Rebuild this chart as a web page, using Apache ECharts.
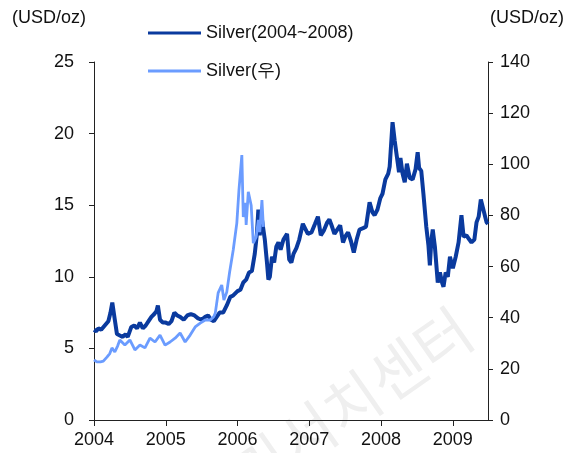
<!DOCTYPE html>
<html>
<head>
<meta charset="utf-8">
<script src="https://cdn.jsdelivr.net/npm/echarts/dist/echarts.min.js"></script>
<style>
  html, body { margin: 0; padding: 0; background: #fff; }
  #chart { width: 576px; height: 453px; }
</style>
</head>
<body>
<div id="chart"></div>
<script>
// silver 2004~2008 (left axis), x as decimal year
var silverYears = [
  2004.00, 2004.03, 2004.06, 2004.10, 2004.15, 2004.20, 2004.23, 2004.255, 2004.29, 2004.32,
  2004.36, 2004.40, 2004.44, 2004.47, 2004.52, 2004.56, 2004.60, 2004.64, 2004.68, 2004.72,
  2004.76, 2004.80, 2004.84, 2004.87, 2004.89, 2004.92, 2004.96, 2005.00, 2005.04, 2005.08,
  2005.12, 2005.16, 2005.20, 2005.25, 2005.30, 2005.35, 2005.40, 2005.45, 2005.50, 2005.55,
  2005.59, 2005.63, 2005.67, 2005.71, 2005.75, 2005.80, 2005.85, 2005.90, 2005.94, 2006.00,
  2006.04, 2006.08, 2006.12, 2006.16, 2006.20, 2006.24, 2006.27, 2006.29, 2006.31, 2006.33,
  2006.36, 2006.38, 2006.41, 2006.43, 2006.45, 2006.48, 2006.51, 2006.54, 2006.57, 2006.60,
  2006.64, 2006.69, 2006.72, 2006.75, 2006.78, 2006.82, 2006.86, 2006.91, 2006.95, 2006.98,
  2007.03, 2007.08, 2007.12, 2007.16, 2007.20, 2007.25, 2007.28, 2007.31, 2007.35, 2007.39,
  2007.43, 2007.47, 2007.50, 2007.54, 2007.58, 2007.62, 2007.66, 2007.70, 2007.75, 2007.79,
  2007.84, 2007.88, 2007.91, 2007.95, 2007.99, 2008.02, 2008.06, 2008.10, 2008.12, 2008.16,
  2008.19, 2008.22, 2008.25, 2008.27, 2008.30, 2008.33, 2008.36, 2008.40, 2008.44, 2008.48,
  2008.51, 2008.53, 2008.56, 2008.59, 2008.63, 2008.66, 2008.68, 2008.70, 2008.72, 2008.75,
  2008.79, 2008.82, 2008.85, 2008.87, 2008.90, 2008.93, 2008.96, 2009.00, 2009.04, 2009.08,
  2009.12, 2009.15, 2009.19, 2009.23, 2009.26, 2009.30, 2009.33, 2009.36, 2009.39, 2009.42,
  2009.47, 2009.49
];
var silverPrice = [
  6.3, 6.2, 6.4, 6.3, 6.6, 6.9, 7.5, 8.2, 7.0, 6.0,
  5.9, 5.8, 6.0, 5.8, 6.5, 6.6, 6.4, 6.8, 6.4, 6.6,
  6.9, 7.2, 7.4, 7.6, 8.0, 7.0, 6.8, 6.8, 6.7, 6.9,
  7.5, 7.3, 7.2, 7.0, 7.3, 7.4, 7.3, 7.1, 7.0, 7.2,
  7.3, 7.0, 6.9, 7.2, 7.5, 7.5, 8.0, 8.6, 8.7, 9.0,
  9.1, 9.6, 9.8, 10.3, 10.4, 11.6, 13.0, 14.7, 12.9, 14.4,
  13.3, 12.6, 11.0, 9.8, 10.0, 11.4, 11.0, 12.1, 12.4, 11.9,
  12.6, 13.0, 11.2, 11.0, 11.6, 12.0, 12.6, 13.7, 13.3, 13.0,
  13.1, 13.7, 14.2, 12.9, 13.2, 13.8, 14.0, 13.6, 13.0, 13.3,
  13.6, 12.4, 12.8, 13.1, 12.5, 11.7, 12.6, 13.3, 13.4, 13.5,
  15.2, 14.5, 14.3, 14.7, 15.5, 15.8, 16.8, 17.2, 17.7, 20.8,
  19.5, 18.4, 17.3, 18.3, 17.2, 16.6, 17.9, 16.9, 16.8, 17.5,
  18.7, 17.6, 17.4, 15.8, 13.5, 12.2, 10.8, 12.5, 13.3, 12.1,
  9.6, 10.3, 9.6, 9.3, 10.3, 10.0, 11.4, 10.6, 11.4, 12.4,
  14.3, 12.8, 12.9, 12.6, 12.4, 12.6, 13.8, 14.2, 15.4, 14.8,
  13.8, 13.7
];

// silver (right axis)
var silverRYears = [
  2004.00, 2004.04, 2004.09, 2004.13, 2004.18, 2004.22, 2004.25, 2004.29, 2004.33, 2004.36,
  2004.43, 2004.50, 2004.57, 2004.64, 2004.71, 2004.78, 2004.85, 2004.92, 2004.99, 2005.06,
  2005.13, 2005.20, 2005.27, 2005.34, 2005.41, 2005.48, 2005.55, 2005.62, 2005.67, 2005.69,
  2005.73, 2005.78, 2005.81, 2005.85, 2005.89, 2005.94, 2005.99, 2006.02, 2006.06, 2006.08,
  2006.11, 2006.12, 2006.15, 2006.19, 2006.22, 2006.26, 2006.29, 2006.31, 2006.34, 2006.36
];
var silverRPrice = [
  23.5, 22.7, 22.7, 23.0, 24.6, 26.0, 28.2, 26.6, 29.0, 31.3,
  29.3, 31.3, 27.4, 29.3, 28.2, 32.0, 30.5, 33.2, 29.3, 30.5,
  32.0, 34.0, 30.5, 33.2, 36.4, 37.9, 39.1, 39.1, 40.5, 41.8,
  49.7, 52.8, 46.9, 50.0, 57.9, 66.5, 77.0, 90.0, 103.6, 79.4,
  84.9, 76.3, 89.2, 84.0, 69.2, 71.6, 78.2, 73.5, 86.0, 75.5
];

var yearTicks = [2004, 2005, 2006, 2007, 2008, 2009];
var leftTicks = [0, 5, 10, 15, 20, 25];
var rightTicks = [0, 20, 40, 60, 80, 100, 120, 140];

function pairs(xs, ys) {
  return xs.map(function (x, i) { return [x, ys[i]]; });
}

var FONT = "'Liberation Sans', Arial, sans-serif";
var FSIZE = 18;
var axisColor = '#222';

var chart = echarts.init(document.getElementById('chart'));

var option = {
  animation: false,
  grid: { left: 94, right: 88, top: 62, bottom: 33 },
  legend: {
    orient: 'vertical',
    left: 148,
    top: 24,
    padding: 0,
    icon: 'rect',
    itemWidth: 53,
    itemHeight: 3,
    itemGap: 20,
    textStyle: { fontFamily: FONT, fontSize: FSIZE, color: '#111' },
    data: ['Silver(2004~2008)', 'Silver(우)']
  },
  xAxis: {
    type: 'value',
    min: yearTicks[0],
    max: 2009.49,
    interval: 1,
    splitLine: { show: false },
    axisLine: { lineStyle: { color: axisColor, width: 1 } },
    axisTick: { length: 6, lineStyle: { color: axisColor } },
    axisLabel: {
      margin: 11,
      fontFamily: FONT,
      fontSize: FSIZE,
      color: '#111',
      showMaxLabel: false,
      formatter: function (v) { return yearTicks.indexOf(v) >= 0 ? String(v) : ''; }
    }
  },
  yAxis: [
    {
      type: 'value',
      min: leftTicks[0],
      max: leftTicks[leftTicks.length - 1],
      interval: 5,
      name: '(USD/oz)',
      nameLocation: 'end',
      nameGap: 44,
      nameTextStyle: { fontFamily: FONT, fontSize: FSIZE, color: '#111', align: 'right', verticalAlign: 'middle', padding: [0, 8, 0, 0] },
      splitLine: { show: false },
      axisLine: { show: true, lineStyle: { color: axisColor, width: 1 } },
      axisTick: { show: true, length: 5, lineStyle: { color: axisColor } },
      axisLabel: { margin: 20, fontFamily: FONT, fontSize: FSIZE, color: '#111' }
    },
    {
      type: 'value',
      min: rightTicks[0],
      max: rightTicks[rightTicks.length - 1],
      interval: 20,
      position: 'right',
      name: '(USD/oz)',
      nameLocation: 'end',
      nameGap: 44,
      nameTextStyle: { fontFamily: FONT, fontSize: FSIZE, color: '#111', align: 'left', verticalAlign: 'middle', padding: [0, 0, 0, 2] },
      splitLine: { show: false },
      axisLine: { show: true, lineStyle: { color: axisColor, width: 1 } },
      axisTick: { show: true, length: 5, lineStyle: { color: axisColor } },
      axisLabel: { margin: 12, fontFamily: FONT, fontSize: FSIZE, color: '#111' }
    }
  ],
  graphic: [
    {
      // watermark
      type: 'text',
      x: 352,
      y: 402,
      rotation: 0.61,
      z: -10,
      silent: true,
      style: {
        text: '리서치센터',
        font: '60px "Noto Sans CJK KR"',
        fill: '#efefef',
        align: 'center',
        verticalAlign: 'middle'
      }
    }
  ],
  series: [
    {
      name: 'Silver(2004~2008)',
      type: 'line',
      yAxisIndex: 0,
      symbol: 'none',
      lineStyle: { color: '#0a3a9e', width: 4 },
      itemStyle: { color: '#0a3a9e' },
      data: pairs(silverYears, silverPrice)
    },
    {
      name: 'Silver(우)',
      type: 'line',
      yAxisIndex: 1,
      symbol: 'none',
      lineStyle: { color: '#6b9cff', width: 2.8 },
      itemStyle: { color: '#6b9cff' },
      data: pairs(silverRYears, silverRPrice)
    }
  ]
};

chart.setOption(option);
</script>
</body>
</html>
